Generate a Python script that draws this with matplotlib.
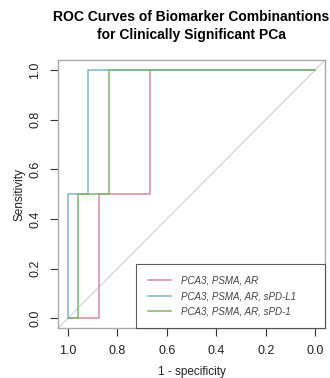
import matplotlib.pyplot as plt

plt.rcParams['font.family'] = ['Liberation Sans', 'DejaVu Sans']

labels = ['PCA3, PSMA, AR', 'PCA3, PSMA, AR, sPD-L1', 'PCA3, PSMA, AR, sPD-1']
colors = ['#d98a9b', '#7db4d6', '#7ab86a']
# step points (x = specificity as plotted, reversed axis)
x_pink = [1.0, 0.875, 0.875, 0.667, 0.667, 0.0]
y_pink = [0.0, 0.0, 0.5, 0.5, 1.0, 1.0]
x_blue = [1.0, 1.0, 0.917, 0.917, 0.0]
y_blue = [0.0, 0.5, 0.5, 1.0, 1.0]
x_green = [1.0, 0.958, 0.958, 0.833, 0.833, 0.0]
y_green = [0.0, 0.0, 0.5, 0.5, 1.0, 1.0]
ticks = [1.0, 0.8, 0.6, 0.4, 0.2, 0.0]

fig = plt.figure(figsize=(3.3, 3.78), dpi=100)
ax = fig.add_axes([0.176, 0.132, 0.809, 0.709])

ax.axline((1, 0), (0, 1), color='#d0d0d0', lw=0.8)
ax.plot(x_pink, y_pink, color=colors[0], lw=1.1, label=labels[0])
ax.plot(x_blue, y_blue, color=colors[1], lw=1.1, label=labels[1])
ax.plot(x_green, y_green, color=colors[2], lw=1.1, label=labels[2])

ax.set_xlim(1.04, -0.04)
ax.set_ylim(-0.04, 1.04)
ax.set_xticks(ticks)
ax.set_yticks(ticks)
ax.set_xticklabels([f'{t:.1f}' for t in ticks])
ax.set_yticklabels([f'{t:.1f}' for t in ticks], rotation=90, va='center')
ax.tick_params(labelsize=9, length=6, width=0.8, pad=6, color='#333333', labelcolor='#222222')
for s in ax.spines.values():
    s.set_color('#aaaaaa')
    s.set_linewidth(1)

ax.set_xlabel('1 - specificity', fontsize=8.5, color='#222222', labelpad=7)
ax.set_ylabel('Sensitivity', fontsize=8.5, color='#222222', labelpad=3)
ax.set_title('ROC Curves of Biomarker Combinantions\nfor Clinically Significant PCa',
             fontsize=10, fontweight='bold', pad=15, linespacing=1.35)

leg = ax.legend(loc='lower left', bbox_to_anchor=(0.292, 0.0, 0.708, 0.25), mode='expand',
                frameon=True, fancybox=False, borderpad=1.2, handlelength=2.4,
                handletextpad=1.0, labelspacing=0.55, borderaxespad=0,
                prop={'style': 'italic', 'size': 7})
leg.get_frame().set_edgecolor('#333333')
leg.get_frame().set_linewidth(0.8)
for t in leg.get_texts():
    t.set_color('#444444')

fig.savefig('out.png', dpi=100)
